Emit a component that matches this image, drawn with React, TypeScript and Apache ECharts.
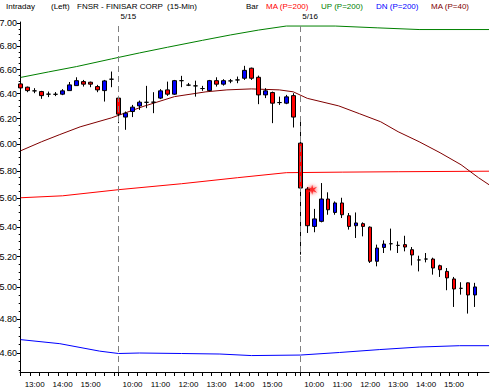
import React, { useEffect, useRef } from "react";
import * as echarts from "echarts";

const FONT = '"Liberation Sans", Arial, Helvetica, sans-serif';

// 15-min bars: [open, close, low, high]
const candles: number[][] = [
  // 5/14 12:30 - 15:45
  [6.48, 6.447, 6.439, 6.488],
  [6.453, 6.425, 6.412, 6.458],
  [6.423, 6.423, 6.404, 6.445],
  [6.417, 6.384, 6.358, 6.423],
  [6.396, 6.396, 6.372, 6.417],
  [6.395, 6.395, 6.38, 6.413],
  [6.396, 6.423, 6.388, 6.437],
  [6.425, 6.472, 6.425, 6.496],
  [6.466, 6.507, 6.464, 6.535],
  [6.499, 6.478, 6.458, 6.513],
  [6.494, 6.478, 6.453, 6.499],
  [6.458, 6.431, 6.412, 6.472],
  [6.425, 6.505, 6.336, 6.513],
  [6.519, 6.519, 6.453, 6.583],
  // 5/15 9:30 - 15:45
  [6.364, 6.235, 6.164, 6.382],
  [6.212, 6.243, 6.112, 6.256],
  [6.256, 6.291, 6.212, 6.309],
  [6.301, 6.331, 6.269, 6.344],
  [6.33, 6.33, 6.283, 6.464],
  [6.331, 6.331, 6.243, 6.412],
  [6.364, 6.423, 6.356, 6.437],
  [6.431, 6.396, 6.382, 6.499],
  [6.396, 6.507, 6.39, 6.513],
  [6.507, 6.507, 6.453, 6.547],
  [6.47, 6.47, 6.462, 6.488],
  [6.464, 6.464, 6.376, 6.507],
  [6.442, 6.442, 6.423, 6.464],
  [6.425, 6.507, 6.419, 6.513],
  [6.507, 6.478, 6.458, 6.535],
  [6.478, 6.507, 6.466, 6.519],
  [6.505, 6.505, 6.486, 6.521],
  [6.513, 6.513, 6.486, 6.541],
  [6.527, 6.593, 6.513, 6.631],
  [6.611, 6.527, 6.513, 6.616],
  [6.535, 6.39, 6.315, 6.549],
  [6.39, 6.423, 6.364, 6.445],
  [6.409, 6.323, 6.164, 6.417],
  [6.328, 6.328, 6.309, 6.376],
  [6.323, 6.374, 6.315, 6.39],
  [6.384, 6.212, 6.13, 6.404],
  // 5/16 9:30 - 15:45
  [6.009, 5.675, 5.213, 6.2],
  [5.668, 5.409, 5.359, 5.682],
  [5.404, 5.456, 5.364, 5.526],
  [5.439, 5.596, 5.432, 5.711],
  [5.596, 5.52, 5.485, 5.644],
  [5.501, 5.568, 5.485, 5.579],
  [5.568, 5.485, 5.462, 5.605],
  [5.478, 5.404, 5.382, 5.497],
  [5.409, 5.428, 5.325, 5.501],
  [5.423, 5.404, 5.336, 5.432],
  [5.399, 5.169, 5.158, 5.404],
  [5.169, 5.257, 5.136, 5.28],
  [5.261, 5.284, 5.224, 5.309],
  [5.286, 5.286, 5.241, 5.389],
  [5.275, 5.275, 5.224, 5.302],
  [5.28, 5.264, 5.235, 5.34],
  [5.246, 5.211, 5.142, 5.264],
  [5.178, 5.178, 5.103, 5.206],
  [5.184, 5.184, 5.162, 5.224],
  [5.184, 5.125, 5.082, 5.193],
  [5.14, 5.114, 5.067, 5.147],
  [5.103, 5.061, 4.982, 5.125],
  [5.054, 4.99, 4.877, 5.067],
  [4.994, 4.994, 4.954, 5.033],
  [5.029, 4.952, 4.836, 5.031],
  [4.952, 5.003, 4.877, 5.029],
];

// indicator lines: [bar index, price]
const ma200: number[][] = [
  [0, 5.605], [6, 5.619], [14, 5.663], [23, 5.706], [31, 5.75], [38, 5.787],
  [46, 5.791], [54, 5.794], [67, 5.798],
];
const up200: number[][] = [
  [0, 6.534], [4, 6.58], [8, 6.625], [13, 6.69], [17, 6.741], [21, 6.79],
  [26, 6.85], [30, 6.897], [34, 6.94], [38, 6.976], [45, 6.976], [51, 6.96],
  [57, 6.945], [67, 6.945],
];
const dn200: number[][] = [
  [0, 4.678], [5.6, 4.654], [11.3, 4.61], [14, 4.596], [17, 4.599], [23, 4.596],
  [28.5, 4.593], [33, 4.584], [40, 4.587], [45.6, 4.602], [51.3, 4.619],
  [57, 4.634], [62.8, 4.642], [67, 4.642],
];
const ma40: number[][] = [
  [0, 5.951], [3, 6.02], [5.5, 6.073], [8.5, 6.135], [13, 6.206], [17.5, 6.296],
  [22, 6.376], [26.5, 6.415], [29.5, 6.431], [33, 6.439], [37, 6.431],
  [39, 6.415], [41, 6.362], [45.5, 6.301], [48.5, 6.238], [51.5, 6.175],
  [54, 6.097], [57, 6.02], [60, 5.936], [63, 5.846], [65.5, 5.75], [67, 5.699],
];
const alertPoint: number[][] = [[41.7, 5.663]];

const sessions = [
  { date: "5/14", firstBar: 0, firstMin: 180 },
  { date: "5/15", firstBar: 14, firstMin: 0 },
  { date: "5/16", firstBar: 40, firstMin: 0 },
];
const hourLabels = ["10:00", "11:00", "12:00", "13:00", "14:00", "15:00"];
const yTickLabels = [4.6, 4.8, 5.0, 5.2, 5.4, 5.6, 5.8, 6.0, 6.2, 6.4, 6.6, 6.8, 7.0];

const legend = [
  { text: "Intraday", x: 6, color: "#000" },
  { text: "(Left)", x: 51, color: "#000" },
  { text: "FNSR - FINISAR CORP  (15-Min)", x: 77, color: "#000" },
  { text: "Bar", x: 246, color: "#000" },
  { text: "MA (P=200)", x: 266, color: "#ff0000" },
  { text: "UP (P=200)", x: 321, color: "#008000" },
  { text: "DN (P=200)", x: 376, color: "#0000ff" },
  { text: "MA (P=40)", x: 431, color: "#800000" },
];

const X_MIN = -0.1;
const X_MAX = 67;
const Y_MIN = Math.log(4.489);
const Y_MAX = Math.log(7.012);
const SESSION_MIN = 390;
const BAR_MIN = 15;
const TICK_MIN = 20;

const ln = Math.log;

function buildOption() {
  const xTicks: number[] = [];
  const hourPos: number[] = [];
  const hourMap: Record<string, string> = {};
  sessions.forEach((s) => {
    for (let m = s.firstMin; m < SESSION_MIN; m += TICK_MIN) {
      xTicks.push(s.firstBar + (m - s.firstMin) / BAR_MIN);
    }
    hourLabels.forEach((h) => {
      const [hh, mm] = h.split(":").map(Number);
      const m = hh * 60 + mm - 570;
      if (m >= s.firstMin) {
        const x = s.firstBar + (m - s.firstMin) / BAR_MIN;
        hourPos.push(x);
        hourMap[x.toFixed(3)] = h;
      }
    });
  });
  const dayPos: number[] = [];
  const dayMap: Record<string, string> = {};
  sessions.slice(1).forEach((s) => {
    dayPos.push(s.firstBar);
    dayMap[s.firstBar.toFixed(3)] = s.date;
  });
  const yMajor = yTickLabels.map(ln);
  const yMinor: number[] = [];
  for (let k = 90; k <= 140; k++) {
    if (k % 4 !== 0) yMinor.push(ln(k * 0.05));
  }

  const toLn = (arr: number[][]) => arr.map(([x, p]) => [x, ln(p)]);

  const lineSeries = (data: number[][], color: string, name: string) => ({
    type: "line",
    name,
    data: toLn(data),
    showSymbol: false,
    symbol: "none",
    smooth: false,
    silent: true,
    xAxisIndex: 0,
    yAxisIndex: 0,
    lineStyle: { color, width: 1 },
    z: 2,
  });

  return {
    animation: false,
    backgroundColor: "#ffffff",
    textStyle: { fontFamily: FONT },
    grid: { left: 20, right: 2, top: 22, bottom: 19, outerBoundsMode: "none", containLabel: false },
    xAxis: [
      {
        type: "value",
        min: X_MIN,
        max: X_MAX,
        position: "bottom",
        axisLine: { show: true, onZero: false, lineStyle: { color: "#000", width: 1 } },
        axisTick: { show: true, customValues: xTicks, length: 4, lineStyle: { color: "#000", width: 1 } },
        axisLabel: {
          show: true,
          customValues: hourPos,
          formatter: (v: number) => hourMap[v.toFixed(3)] || "",
          margin: 8,
          color: "#000",
          fontSize: 8,
          fontFamily: FONT,
        },
        splitLine: { show: false },
      },
      {
        type: "value",
        min: X_MIN,
        max: X_MAX,
        position: "top",
        axisLine: { show: false },
        axisTick: { show: false },
        axisLabel: {
          show: true,
          customValues: dayPos,
          formatter: (v: number) => dayMap[v.toFixed(3)] || "",
          align: "left",
          padding: [0, 0, 0, 2],
          margin: 2,
          color: "#000",
          fontSize: 8,
          fontFamily: FONT,
        },
        splitLine: { show: false },
      },
    ],
    yAxis: [
      {
        type: "value",
        min: Y_MIN,
        max: Y_MAX,
        position: "left",
        axisLine: { show: true, onZero: false, lineStyle: { color: "#000", width: 1 } },
        axisTick: { show: true, customValues: yMajor, length: 3, lineStyle: { color: "#000", width: 1 } },
        axisLabel: {
          show: true,
          customValues: yMajor,
          formatter: (v: number) => Math.exp(v).toFixed(2),
          margin: 3,
          color: "#000",
          fontSize: 9,
          fontFamily: FONT,
        },
        splitLine: { show: false },
      },
      {
        type: "value",
        min: Y_MIN,
        max: Y_MAX,
        position: "left",
        axisLine: { show: false },
        axisTick: { show: true, customValues: yMinor, length: 2, lineStyle: { color: "#000", width: 1 } },
        axisLabel: { show: false },
        splitLine: { show: false },
      },
    ],
    graphic: legend.map((l) => ({
      type: "text",
      x: l.x,
      y: 6,
      silent: true,
      style: {
        text: l.text,
        fill: l.color,
        font: `8px ${FONT}`,
        verticalAlign: "middle",
        align: "left",
      },
    })),
    series: [
      lineSeries(up200, "#008000", "UP (P=200)"),
      lineSeries(ma200, "#ff0000", "MA (P=200)"),
      lineSeries(dn200, "#0000ff", "DN (P=200)"),
      lineSeries(ma40, "#800000", "MA (P=40)"),
      {
        type: "candlestick",
        name: "Bar",
        xAxisIndex: 0,
        yAxisIndex: 0,
        silent: true,
        barWidth: 4,
        encode: { x: 0, y: [1, 2, 3, 4] },
        data: candles.map((c, i) => [i, ln(c[0]), ln(c[1]), ln(c[2]), ln(c[3])]),
        itemStyle: {
          color: "#0000ff",
          color0: "#ff0000",
          borderColor: "#000000",
          borderColor0: "#000000",
          borderColorDoji: "#000000",
          borderWidth: 1,
        },
        z: 3,
        markLine: {
          silent: true,
          symbol: ["none", "none"],
          label: { show: false },
          lineStyle: { color: "#808080", type: [6, 4], width: 1 },
          data: sessions.slice(1).map((s) => ({ xAxis: s.firstBar })),
        },
      },
      {
        type: "scatter",
        xAxisIndex: 0,
        yAxisIndex: 0,
        silent: true,
        symbol:
          "path://M5,0 L6,3.5 L10,2 L7,5 L10,8 L6,6.5 L5,10 L4,6.5 L0,8 L3,5 L0,2 L4,3.5 Z",
        symbolSize: 10,
        data: toLn(alertPoint),
        itemStyle: { color: "#ff2020", shadowBlur: 4, shadowColor: "#ff0000", opacity: 0.9 },
        z: 4,
      },
    ],
  };
}

export default function App() {
  const ref = useRef<HTMLDivElement>(null);
  useEffect(() => {
    document.body.style.margin = "0";
    const chart = echarts.init(ref.current as HTMLDivElement, null, { renderer: "svg" });
    chart.setOption(buildOption() as any);
    return () => chart.dispose();
  }, []);
  return <div ref={ref} style={{ width: 491, height: 391, background: "#fff" }} />;
}
